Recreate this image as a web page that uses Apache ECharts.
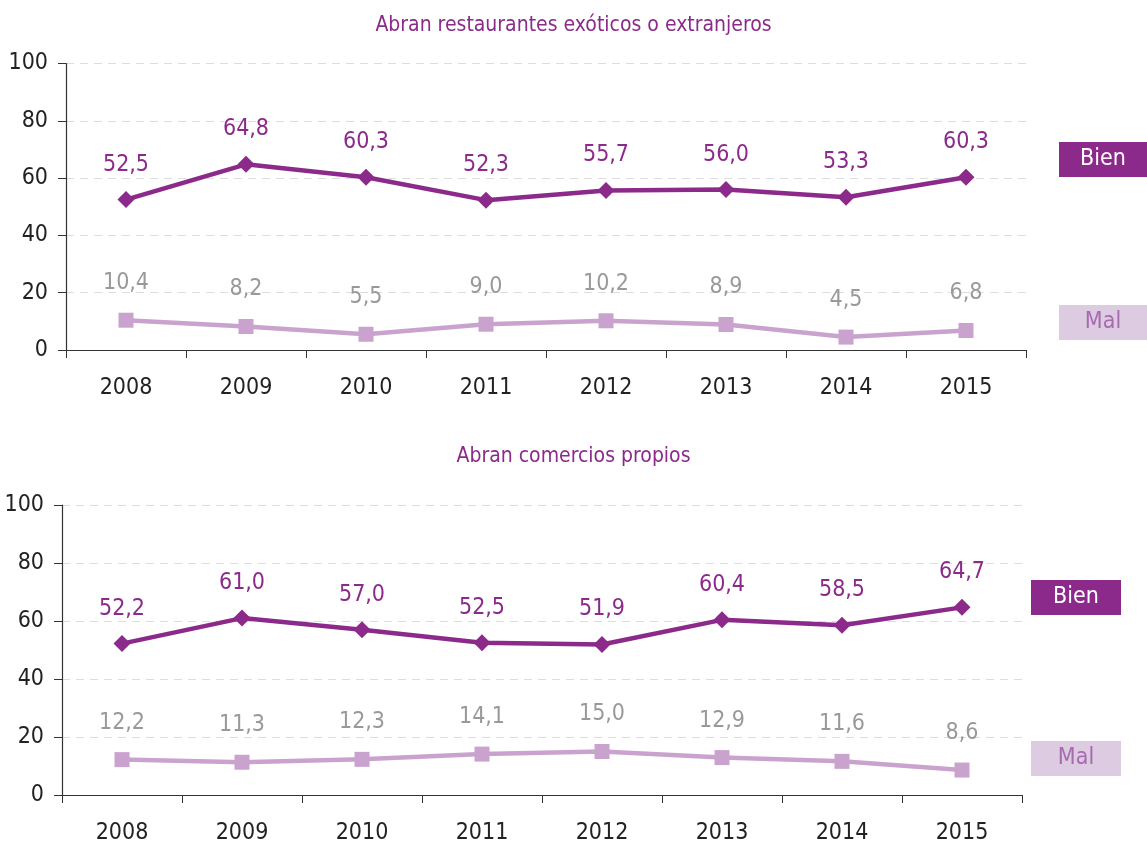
<!DOCTYPE html>
<html><head><meta charset="utf-8">
<script src="https://cdn.jsdelivr.net/npm/echarts@6/dist/echarts.min.js"></script>
<style>html,body{margin:0;padding:0;background:#fff}#c{width:1147px;height:847px}</style>
</head><body><div id="c"></div>
<script>
const years = ['2008','2009','2010','2011','2012','2013','2014','2015'];
const title1 = 'Abran restaurantes exóticos o extranjeros';
const title2 = 'Abran comercios propios';
const bien1 = [52.5, 64.8, 60.3, 52.3, 55.7, 56.0, 53.3, 60.3];
const mal1 = [10.4, 8.2, 5.5, 9.0, 10.2, 8.9, 4.5, 6.8];
const bien2 = [52.2, 61.0, 57.0, 52.5, 51.9, 60.4, 58.5, 64.7];
const mal2 = [12.2, 11.3, 12.3, 14.1, 15.0, 12.9, 11.6, 8.6];
const yTicks = [0, 20, 40, 60, 80, 100];

const FONT = '"Liberation Sans Narrow","DejaVu Sans Condensed","Roboto",sans-serif';
const BIEN = '#8B2A8A';
const MAL = '#C9A3CE';
const MALBOX = '#DDCBE1';
const MALTXT = '#A66BAE';
const fmt = p => p.value.toFixed(1).replace('.', ',');

const chart = echarts.init(document.getElementById('c'));

function xAxis(i){
  return {type:'category', gridIndex:i, data:years, boundaryGap:true,
    axisLine:{lineStyle:{color:'#333',width:1.2}},
    axisTick:{show:true,length:8,lineStyle:{color:'#333'}},
    axisLabel:{color:'#222',fontFamily:FONT,fontSize:23,margin:27}};
}
function yAxis(i){
  return {type:'value', gridIndex:i, min:0, max:100, interval:20,
    axisLine:{show:true,lineStyle:{color:'#333',width:1.2}},
    axisTick:{show:true,length:8,lineStyle:{color:'#333'}},
    axisLabel:{color:'#222',fontFamily:FONT,fontSize:23,margin:18,
      formatter: v => yTicks.includes(v) ? String(v) : ''},
    splitLine:{show:true,lineStyle:{color:'#ddd',type:[8,6],width:1}}};
}
function bienSeries(i, data){
  return {type:'line', xAxisIndex:i, yAxisIndex:i, data:data,
    symbol:'diamond', symbolSize:17, itemStyle:{color:BIEN},
    lineStyle:{color:BIEN,width:4.5}, z:3,
    label:{show:true,position:'top',distance:15,color:BIEN,fontFamily:FONT,fontSize:23,formatter:fmt}};
}
function malSeries(i, data){
  return {type:'line', xAxisIndex:i, yAxisIndex:i, data:data,
    symbol:'rect', symbolSize:15, itemStyle:{color:MAL},
    lineStyle:{color:MAL,width:4.5}, z:2,
    label:{show:true,position:'top',distance:18,color:'#999',fontFamily:FONT,fontSize:23,formatter:fmt}};
}
function box(x,y,w,h,fill,text,tc){
  return {type:'group', left:x, top:y, children:[
    {type:'rect', shape:{x:0,y:0,width:w,height:h}, style:{fill:fill}},
    {type:'text', x:w/2, y:h/2, style:{text:text, fill:tc, font:'23px '+FONT, align:'center', verticalAlign:'middle'}}
  ]};
}

chart.setOption({
  animation:false,
  title:[
    {text:title1, left:'center', top:10, textStyle:{color:BIEN,fontFamily:FONT,fontSize:21,fontWeight:'normal'}},
    {text:title2, left:'center', top:441, textStyle:{color:BIEN,fontFamily:FONT,fontSize:21,fontWeight:'normal'}}
  ],
  grid:[
    {left:66, top:63.5, width:960, height:286.5},
    {left:62, top:505, width:960, height:290}
  ],
  xAxis:[xAxis(0), xAxis(1)],
  yAxis:[yAxis(0), yAxis(1)],
  series:[bienSeries(0,bien1), malSeries(0,mal1), bienSeries(1,bien2), malSeries(1,mal2)],
  graphic:[
    box(1059,142,88,35,BIEN,'Bien','#fff'),
    box(1059,305,88,35,MALBOX,'Mal',MALTXT),
    box(1031,580,90,35,BIEN,'Bien','#fff'),
    box(1031,741,90,35,MALBOX,'Mal',MALTXT)
  ]
});
</script></body></html>
